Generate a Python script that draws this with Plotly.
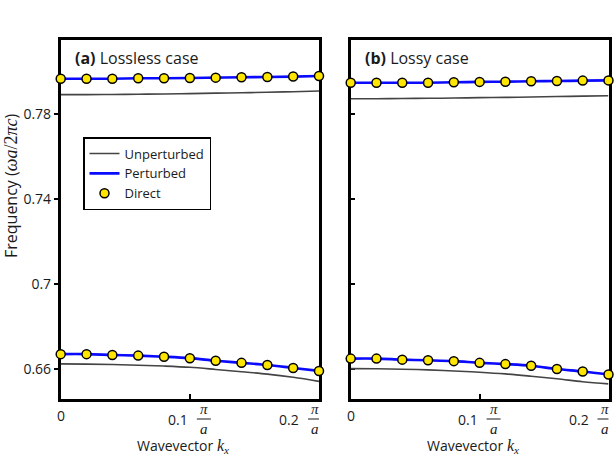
import plotly.graph_objects as go

W, H = 614, 460

KX = [0.00, 0.02, 0.04, 0.06, 0.08, 0.10, 0.12, 0.14, 0.16, 0.18, 0.20]

# (a) lossless case
LOSSLESS_UNPERT_HI = [0.7891, 0.7891, 0.7892, 0.7893, 0.7894, 0.7896, 0.7898, 0.7900, 0.7902, 0.7905, 0.7908]
LOSSLESS_PERT_HI = [0.7966, 0.7966, 0.7966, 0.7968, 0.7968, 0.7969, 0.7971, 0.7973, 0.7974, 0.7976, 0.7979]
LOSSLESS_UNPERT_LO = [0.6625, 0.6624, 0.6622, 0.6619, 0.6615, 0.6609, 0.6599, 0.6588, 0.6577, 0.6562, 0.6543]
LOSSLESS_PERT_LO = [0.6671, 0.6671, 0.6667, 0.6664, 0.6659, 0.6652, 0.6640, 0.6630, 0.6620, 0.6606, 0.6592]

# (b) lossy case
LOSSY_UNPERT_HI = [0.7872, 0.7872, 0.7873, 0.7874, 0.7875, 0.7877, 0.7878, 0.7880, 0.7882, 0.7884, 0.7886]
LOSSY_PERT_HI = [0.7947, 0.7947, 0.7947, 0.7947, 0.7949, 0.7951, 0.7952, 0.7954, 0.7955, 0.7957, 0.7958]
LOSSY_UNPERT_LO = [0.6603, 0.6602, 0.6600, 0.6597, 0.6592, 0.6586, 0.6578, 0.6567, 0.6555, 0.6541, 0.6531]
LOSSY_PERT_LO = [0.6650, 0.6650, 0.6645, 0.6642, 0.6638, 0.6630, 0.6624, 0.6616, 0.6601, 0.6589, 0.6575]

Y_TICKS = [0.66, 0.70, 0.74, 0.78]
Y_RANGE = [0.6460, 0.8148]
X_TICKS = [0.0, 0.1, 0.2]
X_TICK_TEXT = ["0", "0.1", "0.2"]

FONT = "Open Sans"
SERIF = "Liberation Serif"
TXT = "#1a1a1a"
GRAY = "#444444"
BLUE = "#0a0aff"
YELLOW = "#ffe600"

panels = [
    dict(xa="x", ya="y", dom=[60.7 / W, 319 / W], tag="(a)", name="Lossless case",
         unpert=[LOSSLESS_UNPERT_HI, LOSSLESS_UNPERT_LO], pert=[LOSSLESS_PERT_HI, LOSSLESS_PERT_LO]),
    dict(xa="x2", ya="y2", dom=[350.7 / W, 608.5 / W], tag="(b)", name="Lossy case",
         unpert=[LOSSY_UNPERT_HI, LOSSY_UNPERT_LO], pert=[LOSSY_PERT_HI, LOSSY_PERT_LO]),
]

fig = go.Figure()
first = True
for p in panels:
    for i, ys in enumerate(p["unpert"]):
        fig.add_trace(go.Scatter(
            x=KX, y=ys, xaxis=p["xa"], yaxis=p["ya"], mode="lines", name="Unperturbed",
            line=dict(color=GRAY, width=1.6, shape="spline"), legendgroup="u",
            showlegend=first and i == 0, cliponaxis=False,
        ))
    for i, ys in enumerate(p["pert"]):
        fig.add_trace(go.Scatter(
            x=KX, y=ys, xaxis=p["xa"], yaxis=p["ya"], mode="lines", name="Perturbed",
            line=dict(color=BLUE, width=2.6, shape="spline"), legendgroup="p",
            showlegend=first and i == 0, cliponaxis=False,
        ))
    for i, ys in enumerate(p["pert"]):
        fig.add_trace(go.Scatter(
            x=KX, y=ys, xaxis=p["xa"], yaxis=p["ya"], mode="markers", name="Direct",
            marker=dict(color=YELLOW, size=9, line=dict(color="black", width=1.5)),
            legendgroup="d", showlegend=first and i == 0, cliponaxis=False,
        ))
    first = False

ydom = [1 - 399 / H, 1 - 40 / H]
axis_common = dict(showline=True, linecolor="black", linewidth=2.6, mirror=True,
                   showgrid=False, zeroline=False, automargin=False, layer="below traces")

layout = dict(
    width=W, height=H, template="none",
    margin=dict(l=0, r=0, t=0, b=0),
    paper_bgcolor="white", plot_bgcolor="white",
    font=dict(family=FONT, size=14, color=TXT),
    showlegend=True,
    legend=dict(x=83 / W, y=1 - 137 / H, xanchor="left", yanchor="top",
                bordercolor="black", borderwidth=1.5, bgcolor="white",
                font=dict(size=13, color=TXT), tracegroupgap=0),
)
for k, p in enumerate(panels):
    sfx = "" if k == 0 else "2"
    layout["xaxis" + sfx] = dict(
        axis_common, domain=p["dom"], range=[0, 0.2], tickvals=X_TICKS,
        showticklabels=False, ticks="inside", ticklen=5, tickwidth=1.5, tickcolor="black",
        anchor="y" + sfx,
    )
    layout["yaxis" + sfx] = dict(
        axis_common, domain=ydom, range=Y_RANGE, tickvals=Y_TICKS,
        showticklabels=(k == 0), ticks="outside" if k == 0 else "inside",
        ticklen=4, tickwidth=1.5, tickcolor="black", anchor="x" + sfx,
        tickfont=dict(size=14, color=TXT),
    )
fig.update_layout(**layout)

annotations = []
shapes = []
# x tick labels with pi/a fractions
label_y = 1 - 419 / H
for p in panels:
    annotations.append(dict(xref=p["xa"], yref="paper", x=X_TICKS[0], y=1 - 415 / H,
                            text=X_TICK_TEXT[0], showarrow=False, xanchor="center",
                            yanchor="middle", font=dict(size=14, color=TXT)))
    for t, lab, shift in zip(X_TICKS[1:], X_TICK_TEXT[1:], [0, -18]):
        annotations.append(dict(xref=p["xa"], yref="paper", x=t, y=label_y, text=lab,
                                showarrow=False, xanchor="right", yanchor="middle",
                                xshift=shift, font=dict(size=14, color=TXT)))
        annotations.append(dict(xref=p["xa"], yref="paper", x=t, y=label_y,
                                text="<i>π</i><br><i>a</i>", showarrow=False,
                                xanchor="center", yanchor="middle", xshift=shift + 14,
                                font=dict(size=15, color=TXT, family=SERIF)))
        shapes.append(dict(type="line", xref=p["xa"], yref="paper", xsizemode="pixel",
                           xanchor=t, x0=shift + 7, x1=shift + 21,
                           y0=label_y, y1=label_y, line=dict(color=TXT, width=1)))
    # panel tag
    annotations.append(dict(xref="paper", yref="paper", x=p["dom"][0] + 12 / W, y=1 - 58 / H,
                            text="<b>" + p["tag"] + "</b> " + p["name"], showarrow=False,
                            xanchor="left", yanchor="middle", font=dict(size=16, color=TXT)))
    # x title
    xmid = (p["dom"][0] + p["dom"][1]) / 2 - 7 / W
    annotations.append(dict(xref="paper", yref="paper", x=xmid, y=1 - 446 / H,
                            text="Wavevector <span style='font-family:%s;font-size:16px'><i>k</i><sub><i>x</i></sub></span>" % SERIF,
                            showarrow=False, xanchor="center", yanchor="middle",
                            font=dict(size=14, color=TXT)))

annotations.append(dict(xref="paper", yref="paper", x=11 / W, y=1 - 186 / H,
                        text="Frequency (<span style='font-family:%s;font-size:18px'><i>ωa</i>/2<i>πc</i></span>)" % SERIF,
                        textangle=-90, showarrow=False, xanchor="center", yanchor="middle",
                        font=dict(size=16, color=TXT)))

fig.update_layout(annotations=annotations, shapes=shapes)
fig.write_html("out.html", config={"displayModeBar": False},
               post_script="document.body.style.margin='0px';")
